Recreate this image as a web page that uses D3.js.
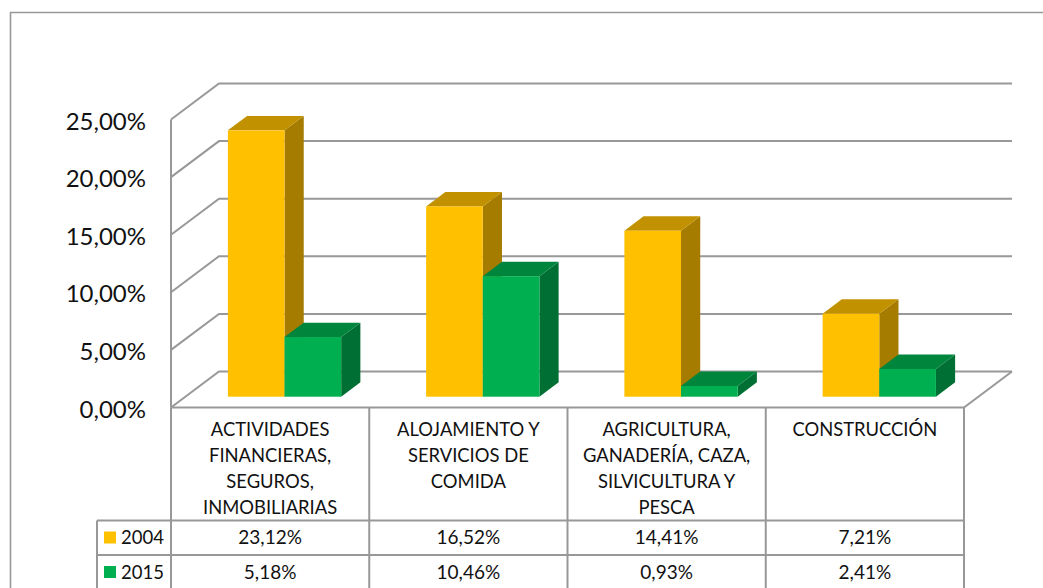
<!DOCTYPE html>
<html>
<head>
<meta charset="utf-8">
<script src="https://cdn.jsdelivr.net/npm/d3@7"></script>
<style>
  html, body { margin: 0; padding: 0; background: #fff; overflow: hidden; }
  text { font-family: Lato, "Open Sans", sans-serif; fill: #111; }
</style>
</head>
<body>
<svg id="chart" width="1043" height="588"></svg>
<script>
var categories = ['ACTIVIDADES FINANCIERAS', 'ALOJAMIENTO Y SERVICIOS', 'AGRICULTURA', 'CONSTRUCCION']
var categoryLines = [
  ['ACTIVIDADES', 'FINANCIERAS,', 'SEGUROS,', 'INMOBILIARIAS'],
  ['ALOJAMIENTO Y', 'SERVICIOS DE', 'COMIDA'],
  ['AGRICULTURA,', 'GANADERÍA, CAZA,', 'SILVICULTURA Y', 'PESCA'],
  ['CONSTRUCCIÓN']
]
var seriesNames = ['2004', '2015']
var values2004 = [23.12, 16.52, 14.41, 7.21]
var values2015 = [5.18, 10.46, 0.93, 2.41]
var yTicks = [0, 5, 10, 15, 20, 25]
var seriesValues = [values2004, values2015]

var frontColors = ['#FFC000', '#00B050']
var topColors = ['#C29100', '#00853D']
var sideColors = ['#A57B00', '#006F33']
var lineColor = '#989898'

var svg = d3.select('#chart')

// plot box, front plane of the 3d chart
var left = 171, right = 964, base = 407.5, top25 = 119.5
var depthX = 48, depthY = -36
// bar sits in the middle of the floor depth
var barStart = 0.3, barDepth = 0.4

var y = d3.scaleLinear().domain([0, 25]).range([base, top25])
var x = d3.scaleBand().domain(categories).range([left, right])
var xBars = d3.scaleBand().domain(seriesNames).range([0, x.bandwidth()]).paddingOuter(0.75).paddingInner(0)

var legendLeft = 97, rowTop = 520.5, rowHeight = 34.5, tableBottom = 592

function px(x0, d) { return x0 + depthX * d }
function py(y0, d) { return y0 + depthY * d }
function pts(list) { return list.map(function (p) { return p.join(',') }).join(' ') }

// outer border of the chart area, it runs off the picture
svg.append('path')
  .attr('d', 'M10.5,596V12.5H1050')
  .attr('fill', 'none')
  .attr('stroke', lineColor)
  .attr('stroke-width', 1.6)

var walls = svg.append('g')
  .attr('fill', 'none')
  .attr('stroke', lineColor)
  .attr('stroke-width', 2)

// grid on back wall and side wall
yTicks.forEach(function (t) {
  var yy = y(t)
  walls.append('polyline')
    .attr('points', pts([[left, yy], [px(left, 1), py(yy, 1)], [px(right, 1), py(yy, 1)]]))
})
walls.append('line')
  .attr('x1', left).attr('x2', left)
  .attr('y1', y(25)).attr('y2', y(0))
walls.append('line')
  .attr('x1', right).attr('x2', px(right, 1))
  .attr('y1', base).attr('y2', py(base, 1))

// bars
var bars = svg.append('g')
categories.forEach(function (c, i) {
  seriesNames.forEach(function (s, j) {
    var v = seriesValues[j][i]
    var x0 = px(x(c) + xBars(s), barStart)
    var x1 = x0 + xBars.bandwidth()
    var yb = py(base, barStart)
    var yt = py(y(v), barStart)
    var dx = depthX * barDepth, dy = depthY * barDepth

    bars.append('polygon')
      .attr('points', pts([[x1, yb], [x1 + dx, yb + dy], [x1 + dx, yt + dy], [x1, yt]]))
      .attr('fill', sideColors[j])
    bars.append('polygon')
      .attr('points', pts([[x0, yt], [x0 + dx, yt + dy], [x1 + dx, yt + dy], [x1, yt]]))
      .attr('fill', topColors[j])
    bars.append('rect')
      .attr('x', x0).attr('y', yt)
      .attr('width', x1 - x0).attr('height', yb - yt)
      .attr('fill', frontColors[j])
  })
})

// y axis labels
var commaFormat = d3.formatLocale({ decimal: ',', thousands: '.', grouping: [3], currency: ['', ''] }).format('.2f')
function pct(v) { return commaFormat(v) + '%' }

var yAxis = d3.axisLeft(y)
  .tickValues(yTicks)
  .tickSize(0)
  .tickPadding(25)
  .tickFormat(pct)

svg.append('g')
  .attr('transform', 'translate(' + left + ',0)')
  .call(yAxis)
  .call(function (g) { g.select('.domain').remove() })
  .selectAll('text')
  .style('font-size', '24px')
  .attr('dy', '0.4em')

// data table
var table = svg.append('g')
  .attr('stroke', lineColor)
  .attr('stroke-width', 2)
  .attr('fill', 'none')

table.append('line').attr('x1', left).attr('x2', right).attr('y1', base).attr('y2', base)
categories.forEach(function (c) {
  table.append('line').attr('x1', x(c)).attr('x2', x(c)).attr('y1', base).attr('y2', tableBottom)
})
table.append('line').attr('x1', right).attr('x2', right).attr('y1', base).attr('y2', tableBottom)
table.append('line').attr('x1', legendLeft).attr('x2', legendLeft).attr('y1', rowTop).attr('y2', tableBottom)
seriesNames.forEach(function (s, j) {
  var yy = rowTop + rowHeight * j
  table.append('line').attr('x1', legendLeft).attr('x2', right).attr('y1', yy).attr('y2', yy)
})

var labels = svg.append('g').attr('text-anchor', 'middle')
categories.forEach(function (c, i) {
  categoryLines[i].forEach(function (line, k) {
    labels.append('text')
      .attr('x', x(c) + x.bandwidth() / 2)
      .attr('y', 436 + k * 26)
      .style('font-size', '18.4px')
      .text(line)
  })
  seriesNames.forEach(function (s, j) {
    labels.append('text')
      .attr('x', x(c) + x.bandwidth() / 2)
      .attr('y', rowTop + rowHeight * j + 23.5)
      .style('font-size', '19px')
      .text(pct(seriesValues[j][i]))
  })
})

seriesNames.forEach(function (s, j) {
  var yy = rowTop + rowHeight * j
  svg.append('rect')
    .attr('x', 104).attr('y', yy + 11)
    .attr('width', 12).attr('height', 12)
    .attr('fill', frontColors[j])
  svg.append('text')
    .attr('x', 121).attr('y', yy + 23.5)
    .style('font-size', '18.5px')
    .text(s)
})
</script>
</body>
</html>
